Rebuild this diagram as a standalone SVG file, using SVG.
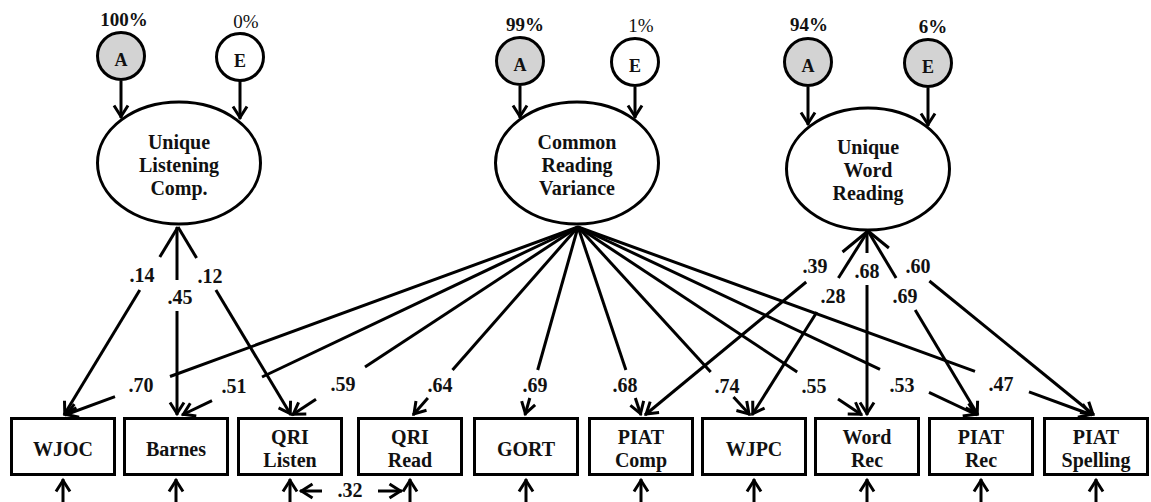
<svg xmlns="http://www.w3.org/2000/svg" width="1151" height="502" viewBox="0 0 1151 502">
  <defs>
    <style>
      .ln { stroke:#000; stroke-width:3; fill:none; stroke-linecap:butt; }
      .ar { marker-end:url(#arr); }
      .lat { fill:#fff; stroke:#000; stroke-width:3; }
      .box { fill:#fff; stroke:#000; stroke-width:3; }
      .circ { fill:#fff; stroke:#000; stroke-width:3; }
      .sig { fill:#d3d3d3; }
      text { font-family:"Liberation Serif","Times New Roman",serif; font-weight:bold; font-size:20px; text-anchor:middle; fill:#111; }
      .pct { font-size:19px; }
      .ns { font-weight:normal; }
      .ae { font-size:18px; }
    </style>
    <marker id="arr" viewBox="-14 -9 17 18" markerWidth="17" markerHeight="18" refX="1.5" refY="0" orient="auto" markerUnits="userSpaceOnUse" overflow="visible">
      <path d="M-11,-7 L0,0 L-11,7" fill="none" stroke="#000" stroke-width="3"/>
    </marker>
  </defs>

  <rect width="1151" height="502" fill="#fff"/>

  <g id="connectors">
    <!-- variance components into the latent factors -->
    <path class="ln ar" d="M121,81 L121,118"/>
    <path class="ln ar" d="M240,81 L240,119"/>
    <path class="ln ar" d="M520,86 L520,118"/>
    <path class="ln ar" d="M635,87 L635,118"/>
    <path class="ln ar" d="M808,87 L808,125"/>
    <path class="ln ar" d="M928,88 L928,126"/>

    <!-- Unique Listening Comp. loadings -->
    <path class="ln" d="M178,227 L159.8,257"/>
    <path class="ln ar" d="M139.8,290 L64,415"/>
    <path class="ln" d="M177,227 L177,280"/>
    <path class="ln ar" d="M177,311 L177,415"/>
    <path class="ln" d="M178,227 L196.6,258"/>
    <path class="ln ar" d="M215.9,290 L291,415"/>

    <!-- Common Reading Variance loadings -->
    <path class="ln" d="M578,227 L170,376.5"/>
    <path class="ln ar" d="M115,396.7 L65,415"/>
    <path class="ln" d="M578,227 L262,377"/>
    <path class="ln ar" d="M212,400.7 L182,415"/>
    <path class="ln" d="M578,227 L365,367"/>
    <path class="ln ar" d="M316,399.2 L292,415"/>
    <path class="ln" d="M578,227 L452.5,370"/>
    <path class="ln ar" d="M427.9,398 L413,415"/>
    <path class="ln" d="M578,227 L537.7,370"/>
    <path class="ln ar" d="M529.8,398 L525,415"/>
    <path class="ln" d="M578,227 L625.9,370"/>
    <path class="ln ar" d="M635.3,398 L641,415"/>
    <path class="ln" d="M578,227 L710.7,372"/>
    <path class="ln ar" d="M733.5,397 L750,415"/>
    <path class="ln" d="M578,227 L797.2,372"/>
    <path class="ln ar" d="M838,399 L862,415"/>
    <path class="ln" d="M578,227 L880,369.3"/>
    <path class="ln ar" d="M929,392.4 L977,415"/>
    <path class="ln" d="M578,227 L975,371.3"/>
    <path class="ln ar" d="M1029,391.9 L1092,415"/>

    <!-- Unique Word Reading loadings -->
    <path class="ln" d="M868,231 L842.5,252"/>
    <path class="ln ar" d="M806.2,282 L645,415"/>
    <path class="ln" d="M868,231 L838.4,278"/>
    <path class="ln ar" d="M816.9,312 L752,415"/>
    <path class="ln" d="M867,231 L867,253"/>
    <path class="ln ar" d="M867,285 L867,415"/>
    <path class="ln" d="M868,231 L896.1,278"/>
    <path class="ln ar" d="M915.2,310 L978,415"/>
    <path class="ln" d="M868,231 L888.9,248"/>
    <path class="ln ar" d="M929.4,281 L1094,415"/>

    <!-- residual arrows -->
    <path class="ln ar" d="M63,502 L63,479"/>
    <path class="ln ar" d="M176,502 L176,479"/>
    <path class="ln ar" d="M290,502 L290,479"/>
    <path class="ln ar" d="M410,502 L410,479"/>
    <path class="ln ar" d="M526,502 L526,479"/>
    <path class="ln ar" d="M641,502 L641,479"/>
    <path class="ln ar" d="M754,502 L754,479"/>
    <path class="ln ar" d="M867,502 L867,479"/>
    <path class="ln ar" d="M981,502 L981,479"/>
    <path class="ln ar" d="M1096,502 L1096,479"/>

    <!-- residual correlation -->
    <path class="ln ar" d="M322,491 L300,491"/>
    <path class="ln ar" d="M378,491 L402,491"/>

    <!-- path coefficients -->
    <text x="142" y="282">.14</text>
    <text x="180" y="304">.45</text>
    <text x="210" y="283">.12</text>
    <text x="141" y="392">.70</text>
    <text x="234" y="393">.51</text>
    <text x="343" y="391">.59</text>
    <text x="440" y="392">.64</text>
    <text x="535" y="392">.69</text>
    <text x="625" y="392">.68</text>
    <text x="727" y="393">.74</text>
    <text x="814" y="393">.55</text>
    <text x="902" y="392">.53</text>
    <text x="1001" y="391">.47</text>
    <text x="815" y="273">.39</text>
    <text x="833" y="303">.28</text>
    <text x="867" y="278">.68</text>
    <text x="905" y="303">.69</text>
    <text x="918" y="273">.60</text>
    <text x="350" y="497">.32</text>
  </g>

  <!-- Unique Listening Comp. with its A and E sources -->
  <g id="A1">
    <text class="pct" x="124" y="26">100%</text>
    <circle class="circ sig" cx="121" cy="56" r="23.5"/>
    <text class="ae" x="121" y="66">A</text>
  </g>
  <g id="E1">
    <text class="pct ns" x="246" y="28">0%</text>
    <circle class="circ" cx="240" cy="57" r="23.5"/>
    <text class="ae" x="240" y="67">E</text>
  </g>
  <g id="uniqueListening">
    <ellipse class="lat" cx="179" cy="163" rx="81.5" ry="61"/>
    <text x="179" y="149">Unique</text>
    <text x="179" y="172">Listening</text>
    <text x="179" y="195">Comp.</text>
  </g>

  <!-- Common Reading Variance with its A and E sources -->
  <g id="A2">
    <text class="pct" x="525" y="31">99%</text>
    <circle class="circ sig" cx="520" cy="61" r="23.5"/>
    <text class="ae" x="520" y="71">A</text>
  </g>
  <g id="E2">
    <text class="pct ns" x="641" y="32">1%</text>
    <circle class="circ" cx="635" cy="62" r="23.5"/>
    <text class="ae" x="635" y="72">E</text>
  </g>
  <g id="commonReading">
    <ellipse class="lat" cx="577" cy="163" rx="81.5" ry="61"/>
    <text x="577" y="149">Common</text>
    <text x="577" y="172">Reading</text>
    <text x="577" y="195">Variance</text>
  </g>

  <!-- Unique Word Reading with its A and E sources -->
  <g id="A3">
    <text class="pct" x="809" y="31">94%</text>
    <circle class="circ sig" cx="808" cy="62" r="23.5"/>
    <text class="ae" x="808" y="72">A</text>
  </g>
  <g id="E3">
    <text class="pct" x="933" y="33">6%</text>
    <circle class="circ sig" cx="928" cy="63" r="23.5"/>
    <text class="ae" x="928" y="73">E</text>
  </g>
  <g id="uniqueWord">
    <ellipse class="lat" cx="868" cy="169" rx="81.5" ry="61"/>
    <text x="868" y="154">Unique</text>
    <text x="868" y="177">Word</text>
    <text x="868" y="200">Reading</text>
  </g>

  <!-- observed measures -->
  <g id="WJOC">
    <rect class="box" x="11.5" y="418.5" width="103" height="56"/>
    <text x="63" y="456">WJOC</text>
  </g>
  <g id="Barnes">
    <rect class="box" x="124.5" y="418.5" width="103" height="56"/>
    <text x="176" y="456">Barnes</text>
  </g>
  <g id="QRIListen">
    <rect class="box" x="238.5" y="418.5" width="103" height="56"/>
    <text x="290" y="444">QRI</text>
    <text x="290" y="467">Listen</text>
  </g>
  <g id="QRIRead">
    <rect class="box" x="358.5" y="418.5" width="103" height="56"/>
    <text x="410" y="444">QRI</text>
    <text x="410" y="467">Read</text>
  </g>
  <g id="GORT">
    <rect class="box" x="474.5" y="418.5" width="103" height="56"/>
    <text x="526" y="456">GORT</text>
  </g>
  <g id="PIATComp">
    <rect class="box" x="589.5" y="418.5" width="103" height="56"/>
    <text x="641" y="444">PIAT</text>
    <text x="641" y="467">Comp</text>
  </g>
  <g id="WJPC">
    <rect class="box" x="702.5" y="418.5" width="103" height="56"/>
    <text x="754" y="456">WJPC</text>
  </g>
  <g id="WordRec">
    <rect class="box" x="815.5" y="418.5" width="103" height="56"/>
    <text x="867" y="444">Word</text>
    <text x="867" y="467">Rec</text>
  </g>
  <g id="PIATRec">
    <rect class="box" x="929.5" y="418.5" width="103" height="56"/>
    <text x="981" y="444">PIAT</text>
    <text x="981" y="467">Rec</text>
  </g>
  <g id="PIATSpelling">
    <rect class="box" x="1044.5" y="418.5" width="103" height="56"/>
    <text x="1096" y="444">PIAT</text>
    <text x="1096" y="467">Spelling</text>
  </g>
</svg>
